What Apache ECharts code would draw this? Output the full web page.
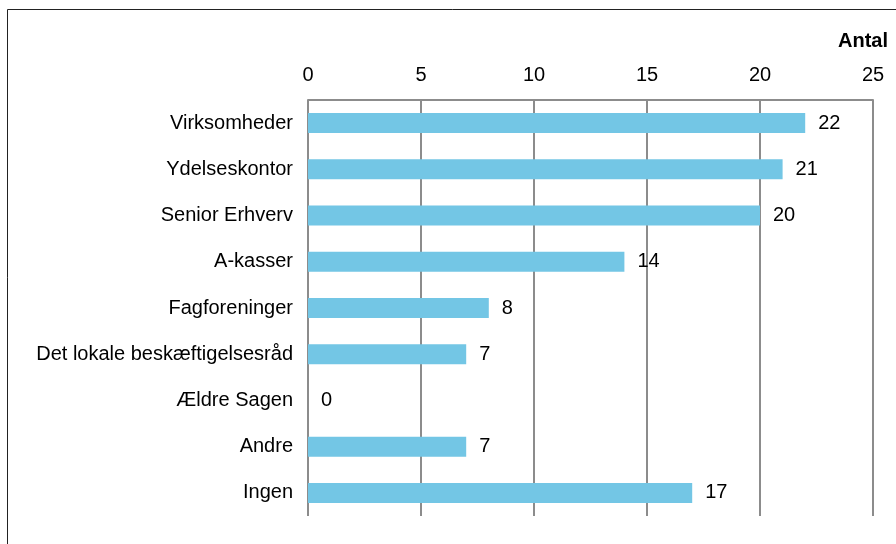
<!DOCTYPE html>
<html>
<head>
<meta charset="utf-8">
<script src="https://cdn.jsdelivr.net/npm/echarts@6/dist/echarts.min.js"></script>
<style>
    html, body { margin: 0; padding: 0; background: #fff; }
    #main { width: 896px; height: 544px; }
</style>
</head>
<body>
<div id="main"></div>
<script>
    // categories (top to bottom)
    var categories = ['Virksomheder', 'Ydelseskontor', 'Senior Erhverv', 'A-kasser', 'Fagforeninger',
        'Det lokale beskæftigelsesråd', 'Ældre Sagen', 'Andre', 'Ingen'];
    var counts = [22, 21, 20, 14, 8, 7, 0, 7, 17];
    var axisTicks = [0, 5, 10, 15, 20, 25];

    var font = '"Liberation Sans", Arial, sans-serif';

    var myChart = echarts.init(document.getElementById('main'));
    var option = {
        animation: false,
        backgroundColor: '#fff',
        textStyle: { fontFamily: font },
        title: {
            text: 'Antal',
            left: 833,
            top: 26,
            textStyle: { fontSize: 20, fontWeight: 'bold', color: '#000', fontFamily: font }
        },
        graphic: [{
            type: 'rect',
            shape: { x: 7.5, y: 9.5, width: 920, height: 600 },
            style: { fill: 'none', stroke: '#222', lineWidth: 1 },
            silent: true
        }],
        grid: { left: 308, right: 23, top: 100, bottom: 28 },
        xAxis: {
            type: 'value',
            position: 'top',
            min: axisTicks[0],
            max: axisTicks[axisTicks.length - 1],
            interval: 5,
            axisLine: { show: true, lineStyle: { color: '#8c8c8c', width: 2 } },
            axisTick: { show: false },
            splitLine: { show: true, lineStyle: { color: '#8c8c8c', width: 2 } },
            axisLabel: { fontSize: 20, color: '#000', margin: 15, fontFamily: font }
        },
        yAxis: {
            type: 'category',
            inverse: true,
            data: categories,
            axisLine: { show: false },
            axisTick: { show: false },
            splitLine: { show: false },
            axisLabel: { fontSize: 20, color: '#000', margin: 15, fontFamily: font }
        },
        series: [{
            type: 'bar',
            data: counts,
            barWidth: 20,
            itemStyle: { color: '#73C6E5' },
            label: {
                show: true,
                position: 'right',
                distance: 13,
                fontSize: 20,
                color: '#000',
                fontFamily: font
            }
        }]
    };
    myChart.setOption(option);
</script>
</body>
</html>
